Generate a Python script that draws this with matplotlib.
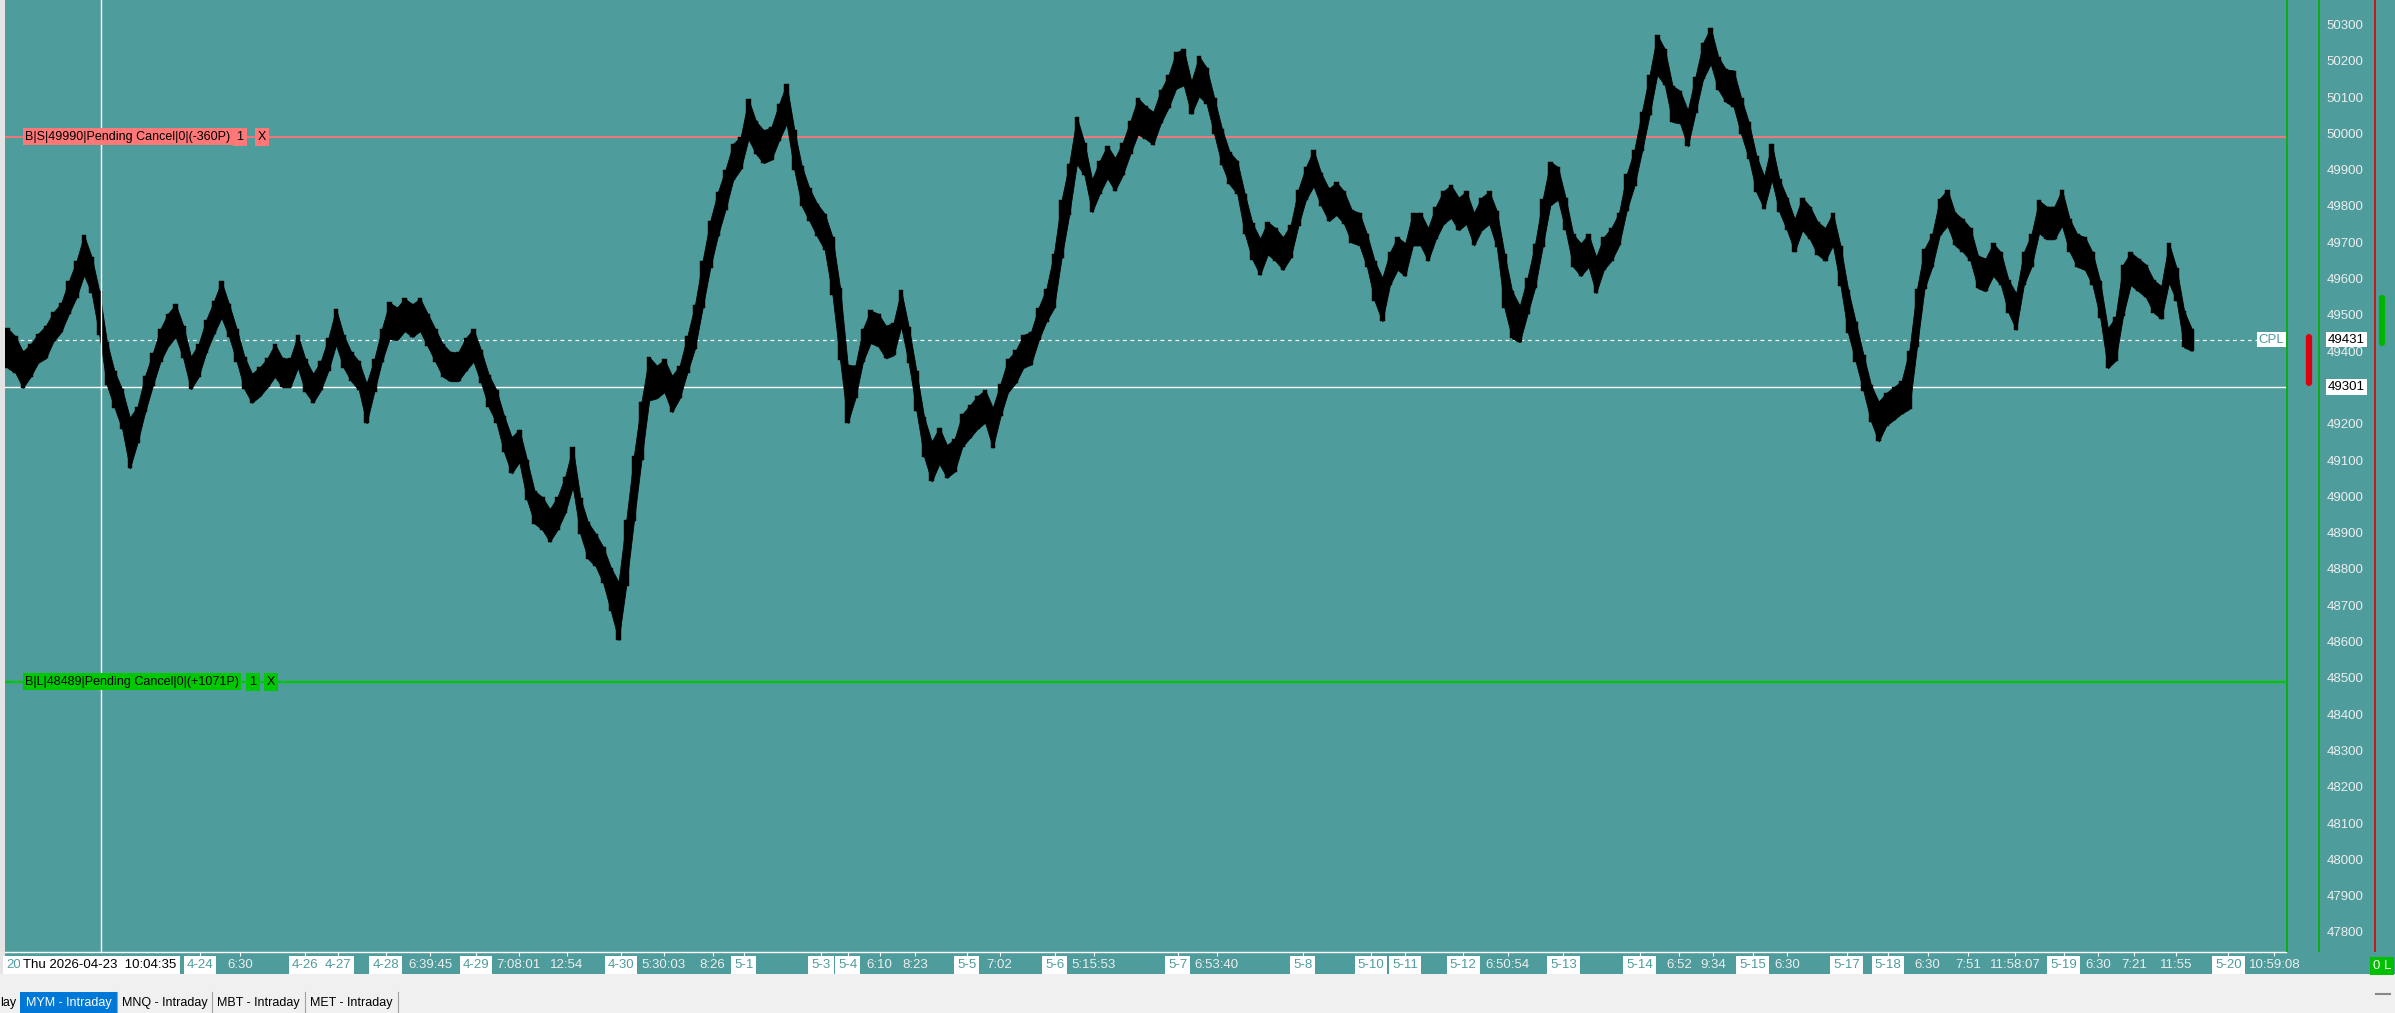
import numpy as np
import matplotlib.pyplot as plt
from matplotlib.patches import Rectangle

plt.rcParams['font.family'] = ['Liberation Sans', 'DejaVu Sans']

W, H = 2395, 1013
teal = "#4F9C9D"
light = "#EEEEEE"

# bars: middle price and half of the bar range
mids = [49408, 49391, 49349, 49374, 49408, 49425, 49467, 49492, 49547, 49597,
        49664, 49610, 49505, 49366, 49294, 49240, 49147, 49197, 49282, 49349,
        49416, 49458, 49484, 49425, 49340, 49374, 49441, 49492, 49542, 49484,
        49416, 49340, 49298, 49315, 49340, 49374, 49340, 49340, 49399, 49332,
        49298, 49332, 49391, 49467, 49399, 49357, 49332, 49256, 49332, 49416,
        49484, 49475, 49500, 49484, 49500, 49458, 49416, 49374, 49357, 49357,
        49391, 49416, 49357, 49290, 49248, 49172, 49113, 49139, 49046, 48970,
        48953, 48920, 48953, 49004, 49080, 48945, 48878, 48852, 48810, 48743,
        48684, 48844, 49021, 49181, 49324, 49315, 49332, 49282, 49315, 49391,
        49467, 49584, 49694, 49778, 49845, 49921, 49946, 50039, 49988, 49963,
        49972, 50030, 50081, 49955, 49854, 49803, 49761, 49728, 49635, 49475,
        49282, 49315, 49416, 49467, 49458, 49425, 49433, 49517, 49416, 49290,
        49164, 49096, 49139, 49096, 49113, 49181, 49206, 49231, 49248, 49189,
        49265, 49332, 49357, 49399, 49408, 49475, 49526, 49593, 49736, 49845,
        49980, 49929, 49828, 49879, 49921, 49887, 49929, 49988, 50047, 50030,
        50014, 50073, 50115, 50173, 50182, 50098, 50157, 50131, 50047, 49963,
        49904, 49879, 49778, 49702, 49660, 49711, 49694, 49669, 49702, 49795,
        49862, 49904, 49845, 49803, 49820, 49795, 49744, 49736, 49677, 49593,
        49542, 49627, 49669, 49652, 49736, 49736, 49694, 49753, 49795, 49812,
        49778, 49795, 49736, 49778, 49795, 49736, 49593, 49500, 49475, 49551,
        49635, 49753, 49862, 49862, 49778, 49677, 49652, 49677, 49610, 49669,
        49694, 49736, 49837, 49904, 50005, 50106, 50216, 50182, 50081, 50072,
        50014, 50106, 50199, 50241, 50165, 50131, 50123, 50047, 49980, 49887,
        49837, 49921, 49828, 49778, 49719, 49778, 49753, 49711, 49694, 49736,
        49635, 49509, 49425, 49340, 49256, 49206, 49240, 49256, 49273, 49320,
        49490, 49627, 49677, 49770, 49795, 49736, 49719, 49694, 49618, 49610,
        49652, 49627, 49551, 49509, 49627, 49677, 49770, 49753, 49753, 49795,
        49719, 49677, 49669, 49627, 49542, 49408, 49433, 49568, 49627, 49610,
        49593, 49551, 49534, 49643, 49584, 49460, 49431]
halves = [55, 50, 50, 45, 40, 45, 40, 40, 45, 50,
          55, 50, 60, 60, 50, 55, 70, 50, 50, 45,
          45, 45, 45, 45, 45, 45, 45, 45, 50, 45,
          45, 45, 40, 40, 40, 45, 40, 40, 45, 45,
          40, 40, 45, 50, 45, 40, 40, 55, 45, 45,
          50, 45, 45, 45, 45, 45, 45, 45, 40, 40,
          45, 45, 45, 45, 45, 50, 50, 45, 55, 45,
          45, 45, 45, 50, 55, 50, 50, 45, 50, 60,
          80, 90, 90, 80, 60, 45, 45, 50, 45, 50,
          60, 65, 65, 60, 55, 50, 45, 55, 45, 45,
          45, 50, 55, 55, 55, 45, 45, 50, 80, 100,
          80, 45, 45, 45, 45, 45, 45, 50, 50, 55,
          55, 55, 50, 45, 45, 45, 45, 45, 45, 55,
          45, 45, 45, 45, 45, 45, 45, 75, 80, 70,
          65, 45, 45, 45, 45, 45, 45, 45, 50, 45,
          45, 45, 45, 50, 50, 45, 55, 50, 50, 50,
          45, 45, 55, 50, 50, 45, 45, 45, 45, 50,
          45, 50, 45, 45, 45, 45, 45, 45, 45, 55,
          60, 45, 45, 45, 45, 45, 45, 45, 45, 45,
          45, 45, 45, 45, 45, 50, 75, 65, 50, 50,
          60, 65, 60, 45, 45, 45, 45, 45, 50, 45,
          45, 45, 50, 50, 55, 55, 55, 50, 50, 45,
          50, 50, 50, 50, 45, 45, 50, 50, 50, 50,
          45, 50, 45, 45, 45, 45, 45, 45, 45, 45,
          55, 60, 55, 50, 50, 55, 45, 45, 45, 80,
          80, 55, 45, 50, 50, 45, 45, 45, 45, 45,
          45, 45, 45, 50, 45, 45, 45, 45, 45, 50,
          45, 45, 45, 45, 50, 55, 60, 70, 45, 45,
          45, 45, 45, 55, 45, 50, 30]

sell_order = 49990
buy_order = 48489
last_price = 49431
white_level = 49301
red_bar = (49312, 49439)
green_bar = (49422, 49546)
price_ticks = [47800, 47900, 48000, 48100, 48200, 48300, 48400, 48500, 48600,
               48700, 48800, 48900, 49000, 49100, 49200, 49300, 49400, 49500,
               49600, 49700, 49800, 49900, 50000, 50100, 50200, 50300]

time_labels = ["4-24", "6:30", "4-26", "4-27", "4-28", "6:39:45", "4-29", "7:08:01", "12:54", "4-30",
               "5:30:03", "8:26", "5-1", "5-3", "5-4", "6:10", "8:23", "5-5", "7:02", "5-6",
               "5:15:53", "5-7", "6:53:40", "5-8", "5-10", "5-11", "5-12", "6:50:54", "5-13", "5-14",
               "6:52", "9:34", "5-15", "6:30", "5-17", "5-18", "6:30", "7:51", "11:58:07", "5-19",
               "6:30", "7:21", "11:55", "5-20", "10:59:08"]
time_pos = [25.2, 30.4, 38.9, 43.2, 49.5, 55.3, 61.3, 66.9, 73.2, 80.3,
            85.9, 92.3, 96.4, 106.5, 110.0, 114.2, 118.8, 125.6, 129.9, 137.1,
            142.2, 153.2, 158.3, 169.6, 178.5, 183.0, 190.6, 196.4, 203.7, 213.7,
            218.9, 223.3, 228.5, 233.0, 240.8, 246.2, 251.4, 256.7, 262.9, 269.2,
            273.7, 278.4, 283.9, 290.8, 296.8]
cross_pos = 12.2
cross_label = "Thu 2026-04-23  10:04:35"
tabs = ["MYM - Intraday", "MNQ - Intraday", "MBT - Intraday", "MET - Intraday"]

bar_px = 7.637
plot_right = 2286
plot_bottom = 952
ylo = 50300 - (plot_bottom - 24.4) / 0.363
yhi = 50300 + 24.4 / 0.363
fs = 9.5


def fx(px):
    return px / W


def fy(py):
    return 1 - py / H


fig = plt.figure(figsize=(W / 100, H / 100), dpi=100, facecolor="#F0F0F0")
fig.patches.append(Rectangle((0, fy(974)), 1, 974 / H, transform=fig.transFigure,
                             facecolor=teal, edgecolor="none", zorder=-10))
fig.patches.append(Rectangle((0, fy(974)), fx(5), 974 / H, transform=fig.transFigure,
                             facecolor="#E4E4E4", edgecolor="none", zorder=-9))

ax = fig.add_axes([fx(5), fy(plot_bottom), fx(plot_right - 5), plot_bottom / H])
ax.set_facecolor(teal)
ax.set_xlim(5 / bar_px - 1, plot_right / bar_px - 1)
ax.set_ylim(ylo, yhi)

mids_a = np.array(mids)
halves_a = np.array(halves)
lows = mids_a - halves_a
highs = mids_a + halves_a
idx = np.arange(len(mids))
ax.fill_between(idx, lows, highs, color="black", lw=0.6, zorder=3)
ax.bar(idx, highs - lows, bottom=lows, width=0.6, color="black",
       edgecolor="black", linewidth=0.3, zorder=3)

# horizontal levels
ax.axhline(sell_order, color="#FF7575", lw=1.3, zorder=2)
ax.axhline(buy_order, color="#00C800", lw=1.6, zorder=2)
ax.axhline(white_level, color="white", lw=1.0, zorder=2)
ax.axhline(last_price, color="white", lw=0.9, ls=(0, (3, 3)), zorder=2)
ax.axvline(cross_pos, color="white", lw=1.0, zorder=4)

ytr = ax.get_yaxis_transform()


def axf(px):
    return (px - 5) / (plot_right - 5)


ofs = 9
box = dict(boxstyle="square,pad=0.2", ec="none")
ax.text(axf(25), sell_order, "B|S|49990|Pending Cancel|0|(-360P)", transform=ytr, ha="left",
        va="center", fontsize=ofs, color="black", bbox=dict(box, fc="#FF7878"), zorder=5)
ax.text(axf(240), sell_order, "1", transform=ytr, ha="center", va="center", fontsize=ofs,
        bbox=dict(boxstyle="square,pad=0.25", ec="none", fc="#FF7878"), zorder=5)
ax.text(axf(262), sell_order, "X", transform=ytr, ha="center", va="center", fontsize=ofs,
        bbox=dict(boxstyle="square,pad=0.25", ec="none", fc="#FF7878"), zorder=5)
ax.text(axf(25), buy_order, "B|L|48489|Pending Cancel|0|(+1071P)", transform=ytr, ha="left",
        va="center", fontsize=ofs, color="black", bbox=dict(box, fc="#00C800"), zorder=5)
ax.text(axf(253), buy_order, "1", transform=ytr, ha="center", va="center", fontsize=ofs,
        bbox=dict(boxstyle="square,pad=0.25", ec="none", fc="#00C800"), zorder=5)
ax.text(axf(271), buy_order, "X", transform=ytr, ha="center", va="center", fontsize=ofs,
        bbox=dict(boxstyle="square,pad=0.25", ec="none", fc="#00C800"), zorder=5)
ax.text(axf(2284), last_price, "CPL", transform=ytr, ha="right", va="center", fontsize=fs,
        color=teal, bbox=dict(boxstyle="square,pad=0.12", ec="none", fc="white"), zorder=5)

# time axis
for s in ["top", "left", "right"]:
    ax.spines[s].set_visible(False)
ax.spines["bottom"].set_color("white")
ax.spines["bottom"].set_linewidth(1.0)
ax.set_yticks([])
ax.set_xticks(time_pos, labels=time_labels)
ax.tick_params(axis="x", colors="white", length=3, width=0.8, pad=2, labelsize=fs,
               labelcolor=light)
for lab in ax.get_xticklabels():
    if "-" in lab.get_text():
        lab.set_color(teal)
        lab.set_bbox(dict(boxstyle="square,pad=0.22", fc="white", ec="none"))

fig.text(fx(6), fy(965), "20", ha="left", va="center", fontsize=fs, color=teal,
         bbox=dict(boxstyle="square,pad=0.22", fc="white", ec="none"))
fig.text(fx(100), fy(965), cross_label, ha="center", va="center", fontsize=fs, color="black",
         bbox=dict(boxstyle="square,pad=0.25", fc="white", ec="none"))

# price scale
pax = fig.add_axes([fx(plot_right), fy(plot_bottom), fx(W - plot_right), plot_bottom / H])
pax.set_facecolor(teal)
pax.set_xlim(0, 1)
pax.set_ylim(ylo, yhi)
for s in pax.spines.values():
    s.set_visible(False)
pax.set_xticks([])
pax.set_yticks(price_ticks, labels=[str(p) for p in price_ticks])
pax.tick_params(axis="y", length=0, pad=-56, labelsize=fs, labelcolor=light)


def pf(px):
    return (px - plot_right) / (W - plot_right)


pax.axvline(pf(2286.5), color="#00B000", lw=1.2)
pax.axvline(pf(2319), color="#00B000", lw=1.2)
pax.axvline(pf(2375), color="#E00000", lw=1.2)
pax.plot([pf(2309), pf(2309)], red_bar, color="#DD0010", lw=4.5, solid_capstyle="round")
pax.plot([pf(2382), pf(2382)], green_bar, color="#00B400", lw=4.5, solid_capstyle="round")
pax.text(pf(2365), last_price, str(last_price), ha="right", va="center", fontsize=fs,
         color="black", bbox=dict(boxstyle="square,pad=0.12", fc="white", ec="none"), zorder=5)
pax.text(pf(2365), white_level, str(white_level), ha="right", va="center", fontsize=fs,
         color="black", bbox=dict(boxstyle="square,pad=0.12", fc="white", ec="none"), zorder=5)

fig.text(fx(2382), fy(966), "0 L", ha="center", va="center", fontsize=fs, color="white",
         bbox=dict(boxstyle="square,pad=0.25", fc="#00C000", ec="none"))

# tab bar
fig.text(fx(0), fy(1003), "lay", ha="left", va="center", fontsize=9, color="black")
tab_edges = [20, 117, 212, 305, 398]
for i, name in enumerate(tabs):
    x0, x1 = tab_edges[i], tab_edges[i + 1]
    if i == 0:
        fig.patches.append(Rectangle((fx(x0), 0), fx(x1 - x0), 21 / H, transform=fig.transFigure,
                                     facecolor="#0078D7", edgecolor="none", zorder=-5))
    fig.lines.append(plt.Line2D([fx(x1), fx(x1)], [0, 21 / H], transform=fig.transFigure,
                                color="#A0A0A0", lw=0.8))
    fig.text(fx((x0 + x1) / 2), fy(1003), name, ha="center", va="center", fontsize=9,
             color="white" if i == 0 else "black")
fig.lines.append(plt.Line2D([fx(2376), fx(2390)], [fy(994), fy(994)], transform=fig.transFigure,
                            color="#888888", lw=1.5))

fig.savefig("out.png", dpi=100, facecolor=fig.get_facecolor())
